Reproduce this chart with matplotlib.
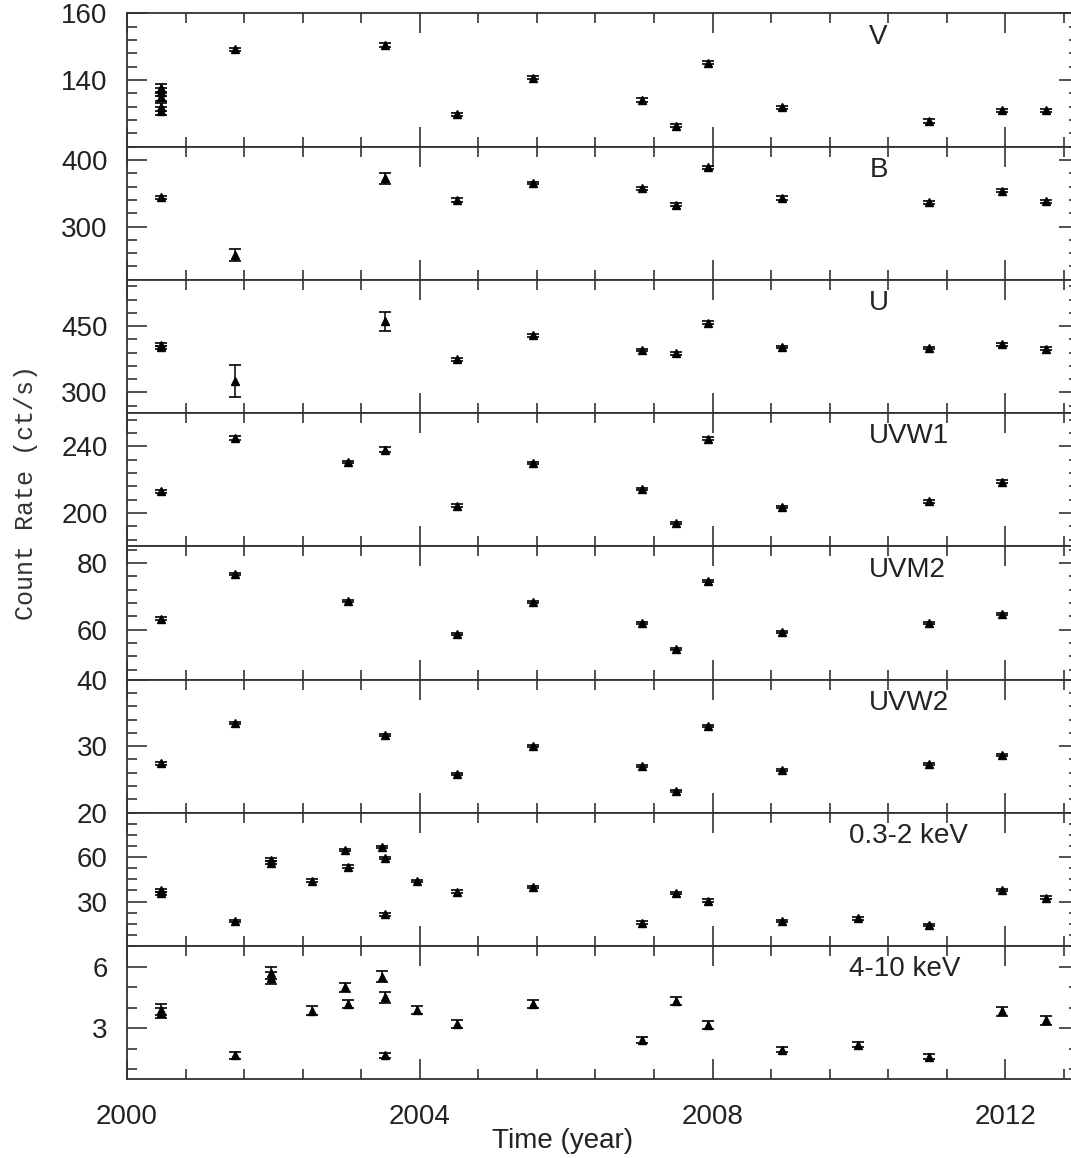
import matplotlib.pyplot as plt
from matplotlib.ticker import MultipleLocator, FixedLocator

plt.rcParams['font.family'] = ['Liberation Sans', 'DejaVu Sans']

# count rates per band: time (year), rate (ct/s), 1-sigma error
v_t = [2000.47, 2000.47, 2000.47, 2000.47, 2000.47, 2001.47, 2003.53, 2004.51, 2005.54,
       2007.04, 2007.50, 2007.94, 2008.95, 2010.96, 2011.96, 2012.55]
v_rate = [137.6, 136.3, 135.0, 132.0, 130.8, 149.2, 150.4, 129.7, 140.7,
          134.0, 126.3, 145.2, 131.8, 127.7, 130.9, 130.9]
v_err = [1.2, 1.2, 1.2, 1.2, 1.2, 0.5, 0.6, 0.4, 0.4,
         0.5, 0.5, 0.4, 0.4, 0.6, 0.5, 0.4]

b_t = [2000.47, 2001.47, 2003.53, 2004.51, 2005.54, 2007.04, 2007.50, 2007.94,
       2008.95, 2010.96, 2011.96, 2012.55]
b_rate = [344, 256.5, 372.5, 340, 365.5, 357.5, 333, 389, 343, 336.5, 354, 338]
b_err = [2, 9, 8, 2.5, 2, 2.5, 2.5, 2, 2.5, 2.5, 2.5, 2.5]

u_t = [2000.47, 2000.47, 2001.47, 2003.53, 2004.51, 2005.54, 2007.04, 2007.50, 2007.94,
       2008.95, 2010.96, 2011.96, 2012.55]
u_rate = [408, 402, 326, 461, 375, 429, 396, 388.5, 457.5, 403, 400.5, 409, 399]
u_err = [4, 4, 36, 21, 3, 3, 3, 3, 3, 3, 3, 3, 3]

uvw1_t = [2000.47, 2001.47, 2003.02, 2003.53, 2004.51, 2005.54, 2007.04, 2007.50,
          2007.94, 2008.95, 2010.96, 2011.96]
uvw1_rate = [213, 245, 230.6, 238, 204.4, 230, 214.4, 194, 244.6, 203.6, 207, 218.8]
uvw1_err = [1, 1, 0.8, 1.5, 0.8, 0.8, 0.8, 0.8, 0.8, 0.8, 0.8, 0.8]

uvm2_t = [2000.47, 2001.47, 2003.02, 2004.51, 2005.54, 2007.04, 2007.50, 2007.94,
          2008.95, 2010.96, 2011.96]
uvm2_rate = [63.3, 76.8, 68.6, 58.6, 68.2, 62.0, 54.1, 74.7, 59.2, 62.1, 64.8]
uvm2_err = [0.5, 0.3, 0.3, 0.3, 0.3, 0.3, 0.3, 0.3, 0.3, 0.3, 0.3]

uvw2_t = [2000.47, 2001.47, 2003.53, 2004.51, 2005.54, 2007.04, 2007.50, 2007.94,
          2008.95, 2010.96, 2011.96]
uvw2_rate = [27.4, 33.4, 31.6, 25.8, 30.0, 27.0, 23.2, 33.0, 26.4, 27.3, 28.6]
uvw2_err = [0.2, 0.15, 0.15, 0.15, 0.15, 0.15, 0.15, 0.15, 0.15, 0.15, 0.15]

soft_t = [2000.47, 2000.47, 2001.47, 2001.97, 2001.97, 2002.53, 2002.98, 2003.02,
          2003.48, 2003.53, 2003.53, 2003.96, 2004.51, 2005.54, 2007.04, 2007.50,
          2007.94, 2008.95, 2009.98, 2010.96, 2011.96, 2012.55]
soft_rate = [37.5, 35.5, 17.1, 58.2, 56.2, 44.2, 65.0, 53.7, 66.8, 59.3, 21.4, 44.0,
             36.7, 39.7, 15.8, 35.6, 30.7, 16.9, 18.7, 14.2, 37.9, 32.7]
soft_err = [1, 1, 0.8, 1, 1, 0.8, 0.8, 1.2, 0.8, 0.8, 0.8, 0.8,
            0.8, 0.8, 0.8, 0.8, 0.8, 0.8, 0.8, 0.6, 0.8, 0.8]

hard_t = [2000.47, 2000.47, 2001.47, 2001.97, 2001.97, 2002.53, 2002.98, 2003.02,
          2003.48, 2003.53, 2003.53, 2003.96, 2004.51, 2005.54, 2007.04, 2007.50,
          2007.94, 2008.95, 2009.98, 2010.96, 2011.96, 2012.55]
hard_rate = [3.9, 3.75, 1.66, 5.7, 5.45, 3.84, 4.98, 4.17, 5.51, 4.49, 1.67, 3.89,
             3.21, 4.17, 2.43, 4.33, 3.13, 1.95, 2.19, 1.59, 3.81, 3.37]
hard_err = [0.25, 0.25, 0.15, 0.3, 0.3, 0.22, 0.2, 0.2, 0.25, 0.25, 0.12, 0.2,
            0.2, 0.2, 0.15, 0.2, 0.2, 0.12, 0.12, 0.12, 0.2, 0.22]

# name, t, rate, err, ylim, labelled ticks, minor step, label x
bands = [
    ('V', v_t, v_rate, v_err, (120, 160), [140, 160], 4, 2010.14),
    ('B', b_t, b_rate, b_err, (220, 420), [300, 400], 20, 2010.14),
    ('U', u_t, u_rate, u_err, (253, 555), [300, 450], 30, 2010.14),
    ('UVW1', uvw1_t, uvw1_rate, uvw1_err, (180, 260), [200, 240], 8, 2010.14),
    ('UVM2', uvm2_t, uvm2_rate, uvm2_err, (45, 85), [60, 80], 4, 2010.14),
    ('UVW2', uvw2_t, uvw2_rate, uvw2_err, (20, 40), [20, 30, 40], 2, 2010.14),
    ('0.3-2 keV', soft_t, soft_rate, soft_err, (0, 90), [30, 60], 7.5, 2009.87),
    ('4-10 keV', hard_t, hard_rate, hard_err, (0.5, 7), [3, 6], 1, 2009.87),
]

fig = plt.figure(figsize=(10.71, 11.58), dpi=100)

top, bot = 0.9885, 0.0680
left, right = 0.1186, 1.0071
h = (top - bot) / len(bands)

for i, (name, t, rate, err, ylim, major, minor, lx) in enumerate(bands):
    ax = fig.add_axes([left, top - (i + 1) * h, right - left, h])
    ax.errorbar(t, rate, yerr=err, fmt='^', color='k', ms=5.5, capsize=4.5,
                elinewidth=1.1, capthick=1.2)
    ax.set_xlim(2000, 2013)
    ax.set_ylim(*ylim)
    ax.xaxis.set_major_locator(FixedLocator([2000, 2004, 2008, 2012]))
    ax.xaxis.set_minor_locator(MultipleLocator(0.8))
    ax.yaxis.set_major_locator(FixedLocator(major))
    ax.yaxis.set_minor_locator(MultipleLocator(minor))
    ax.tick_params(which='both', direction='in', top=True, right=True,
                   color='#333', width=1.2, labelsize=20, labelcolor='#222')
    ax.tick_params(which='major', length=14.4)
    ax.tick_params(which='minor', length=7.2)
    ax.tick_params(axis='y', pad=14)
    ax.tick_params(axis='x', pad=18)
    for s in ax.spines.values():
        s.set_color('#333')
        s.set_linewidth(1.3)
    if i < len(bands) - 1:
        ax.tick_params(axis='x', labelbottom=False)
    ax.text(lx, 0.824, name, transform=ax.get_xaxis_transform(), fontsize=20,
            ha='left', va='center', color='#222')

fig.text(0.0243, 0.5747, 'Count Rate (ct/s)', rotation=90, family='Liberation Mono',
         fontsize=18, ha='center', va='center', color='#333')
fig.text(0.525, 0.0145, 'Time (year)', fontsize=20, ha='center', va='center', color='#222')

plt.savefig('out.png', dpi=100)
plt.close()
